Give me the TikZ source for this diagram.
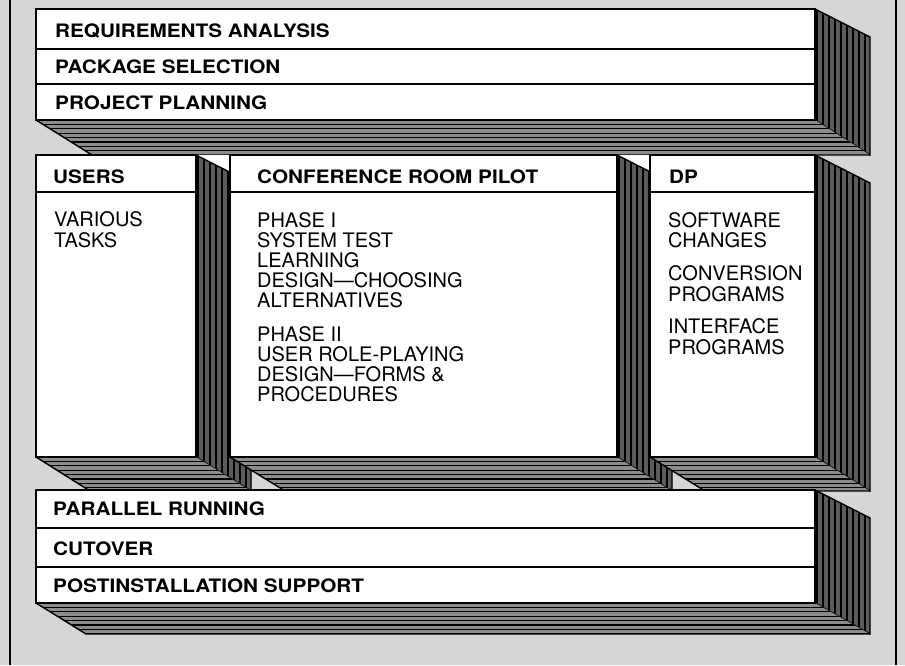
\documentclass[tikz,border=0pt]{standalone}
\usepackage{fontspec}
\setmainfont{TeX Gyre Heros}
\newfontfamily\hdfont{TeX Gyre Heros}[FakeStretch=1.12]
\definecolor{bgstip}{gray}{0.84}
\definecolor{sidefill}{gray}{0.36}
\definecolor{botfill}{gray}{0.55}
\tikzset{
  hd/.style={anchor=base west, inner sep=0pt, font=\hdfont\bfseries\fontsize{18.5}{20}\selectfont},
  bd/.style={anchor=base west, inner sep=0pt, font=\fontsize{20}{20}\selectfont},
  edge/.style={line width=1.4pt, line join=miter},
  rowline/.style={line width=1.2pt},
  sideline/.style={line width=1.8pt, black},
  botline/.style={line width=1.1pt, black}
}
\newcommand{\sideface}[4]{%
  \begin{scope}
    \clip (#1,#2) -- (#1+55,#2+28) -- (#1+55,#3+#4) -- (#1,#3) -- cycle;
    \fill[sidefill] (#1-1,#2-1) rectangle (#1+56,#3+#4+1);
    \foreach \k in {0,...,9} \draw[sideline] ({#1+2+\k*6},#2) -- ({#1+2+\k*6},{#3+#4});
  \end{scope}
  \draw[edge] (#1,#2) -- (#1+55,#2+28) -- (#1+55,#3+#4) -- (#1,#3);
}
\newcommand{\bottomface}[5]{%
  \begin{scope}
    \clip (#1,#3) -- (#2,#3) -- (#2+55,#3+#5) -- (#1+#4,#3+#5) -- cycle;
    \fill[botfill] (#1,#3) rectangle (#2+55,#3+#5);
    \foreach \k in {1,...,7} \draw[botline] (#1,{#3+\k*4.4}) -- (#2+55,{#3+\k*4.4});
  \end{scope}
  \draw[edge] (#1,#3) -- (#1+#4,#3+#5) -- (#2+55,#3+#5);
}
\begin{document}
\begin{tikzpicture}[x=1pt,y=-1pt]
\fill[bgstip] (0,0) rectangle (905,665);
\useasboundingbox (0,0) rectangle (905,665);
\draw[edge] (10,0) -- (10,665);
\draw[edge] (896,0) -- (896,665);

% ---------- top block
\sideface{815}{9}{120}{35}
\bottomface{36}{815}{120}{56}{35}
\draw[edge, fill=white] (36,9) rectangle (815,120);
\draw[rowline] (36,49) -- (815,49);
\draw[rowline] (36,84) -- (815,84);
\node[hd] (req) at (55,37) {REQUIREMENTS ANALYSIS};
\node[hd] (pkg) at (55,73) {PACKAGE SELECTION};
\node[hd] (plan) at (55,109) {PROJECT PLANNING};

% ---------- middle boxes
\fill[white] (196,155) rectangle (251,490);
\fill[white] (617,155) rectangle (672,490);

% users
\sideface{196}{155}{457}{34}
\bottomface{36}{196}{457}{54}{34}
\draw[edge, fill=white] (36,155) rectangle (196,457);
\draw[rowline] (36,192) -- (196,192);
\node[hd] (users) at (53,183) {USERS};
\node[bd] (u1) at (54,226) {VARIOUS};
\node[bd] (u2) at (54,247) {TASKS};

% conference room pilot
\sideface{617}{155}{457}{34}
\bottomface{230}{617}{457}{55}{34}
\draw[edge, fill=white] (230,155) rectangle (617,457);
\draw[rowline] (230,192) -- (617,192);
\node[hd] (crp) at (257,183) {CONFERENCE ROOM PILOT};
\node[bd] (c1) at (257,227) {PHASE I};
\node[bd] (c2) at (257,247) {SYSTEM TEST};
\node[bd] (c3) at (257,267.5) {LEARNING};
\node[bd] (c4) at (257,287.5) {DESIGN—CHOOSING};
\node[bd] (c5) at (257,307) {ALTERNATIVES};
\node[bd] (c6) at (257,341) {PHASE II};
\node[bd] (c7) at (257,361) {USER ROLE-PLAYING};
\node[bd] (c8) at (257,381) {DESIGN—FORMS \&};
\node[bd] (c9) at (257,401.5) {PROCEDURES};

% dp
\sideface{815}{155}{457}{34}
\bottomface{650}{815}{457}{55}{34}
\draw[edge, fill=white] (650,155) rectangle (815,457);
\draw[rowline] (650,192) -- (815,192);
\node[hd] (dp) at (669,183) {DP};
\node[bd] (d1) at (668,227) {SOFTWARE};
\node[bd] (d2) at (668,247.5) {CHANGES};
\node[bd] (d3) at (668,280) {CONVERSION};
\node[bd] (d4) at (668,301) {PROGRAMS};
\node[bd] (d5) at (668,333) {INTERFACE};
\node[bd] (d6) at (668,354) {PROGRAMS};

% ---------- lower block
\sideface{815}{490}{603}{31}
\bottomface{36}{815}{603}{50}{31}
\draw[edge, fill=white] (36,490) rectangle (815,603);
\draw[rowline] (36,528) -- (815,528);
\draw[rowline] (36,567) -- (815,567);
\node[hd] (par) at (53,515) {PARALLEL RUNNING};
\node[hd] (cut) at (53,555) {CUTOVER};
\node[hd] (post) at (53,592) {POSTINSTALLATION SUPPORT};
\end{tikzpicture}
\end{document}
